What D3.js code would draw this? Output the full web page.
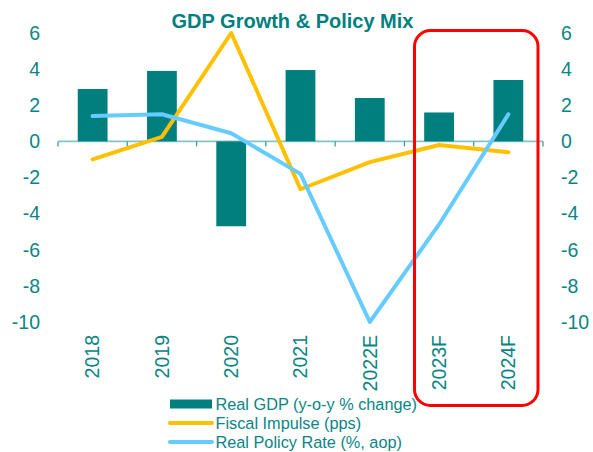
<!DOCTYPE html>
<html>
<head>
<meta charset="utf-8">
<script src="https://cdn.jsdelivr.net/npm/d3@7"></script>
<style>
  html, body { margin: 0; padding: 0; background: #fff; }
  svg { display: block; font-family: "Liberation Sans", Arial, sans-serif; }
</style>
</head>
<body>
<svg id="chart" width="593" height="452"></svg>
<script>
const categories = ["2018", "2019", "2020", "2021", "2022E", "2023F", "2024F"];
const gdp = [2.9, 3.9, -4.7, 3.95, 2.4, 1.6, 3.4];
const fiscal = [-1.0, 0.25, 6.0, -2.65, -1.15, -0.2, -0.6];
const policy = [1.4, 1.5, 0.45, -1.8, -10.0, -4.6, 1.5];
const yTicks = [6, 4, 2, 0, -2, -4, -6, -8, -10];
const legendLabels = ["Real GDP (y-o-y % change)", "Fiscal Impulse (pps)", "Real Policy Rate (%, aop)"];
const titleText = "GDP Growth & Policy Mix";

const teal = "#007F7F", textTeal = "#0A8585", yellow = "#FFC000", blue = "#66CCFF", red = "#FF0000";

const svg = d3.select("#chart");

const x = d3.scaleBand().domain(categories).range([58, 543]).paddingInner(0.57).paddingOuter(0.285);
const xStep = d3.scaleBand().domain(categories).range([58, 543]).padding(0);
const y = d3.scaleLinear().domain([-10, 6]).range([322, 33]);

// Title
svg.append("text").attr("x", 292.5).attr("y", 28).attr("text-anchor", "middle")
  .attr("font-size", 20).attr("font-weight", "bold").attr("fill", teal).text(titleText);

// Zero axis line
svg.append("line").attr("x1", 58).attr("x2", 543).attr("y1", y(0)).attr("y2", y(0))
  .attr("stroke", "#86C3C3").attr("stroke-width", 1.8);
// ticks at band boundaries
const bounds = categories.map(c => xStep(c)).concat([xStep(categories[categories.length-1]) + xStep.bandwidth()]);
svg.selectAll("line.tick").data(bounds).enter().append("line").attr("class", "tick")
  .attr("x1", d => d).attr("x2", d => d).attr("y1", y(0)).attr("y2", y(0) + 5)
  .attr("stroke", "#2E9595").attr("stroke-width", 1.2);

// Bars
svg.selectAll("rect.bar").data(gdp).enter().append("rect").attr("class", "bar")
  .attr("x", (d, i) => x(categories[i]))
  .attr("width", x.bandwidth())
  .attr("y", d => y(Math.max(0, d)))
  .attr("height", d => Math.abs(y(d) - y(0)))
  .attr("fill", teal);

// Lines
const cx = i => x(categories[i]) + x.bandwidth() / 2;
const line = d3.line().x((d, i) => cx(i)).y(d => y(d));
svg.append("path").datum(fiscal).attr("d", line).attr("fill", "none")
  .attr("stroke", yellow).attr("stroke-width", 4).attr("stroke-linejoin", "round").attr("stroke-linecap", "round");
svg.append("path").datum(policy).attr("d", line).attr("fill", "none")
  .attr("stroke", blue).attr("stroke-width", 4).attr("stroke-linejoin", "round").attr("stroke-linecap", "round");

// Y axis labels left and right
svg.selectAll("text.yl").data(yTicks).enter().append("text").attr("class", "yl")
  .attr("x", 40).attr("y", d => y(d)).attr("dy", "0.35em").attr("text-anchor", "end")
  .attr("font-size", 19.5).attr("fill", textTeal).text(d => d);
svg.selectAll("text.yr").data(yTicks).enter().append("text").attr("class", "yr")
  .attr("x", 561).attr("y", d => y(d)).attr("dy", "0.35em").attr("text-anchor", "start")
  .attr("font-size", 19.5).attr("fill", textTeal).text(d => d);

// X labels rotated
svg.selectAll("text.xl").data(categories).enter().append("text").attr("class", "xl")
  .attr("transform", (d, i) => `translate(${cx(i)},335) rotate(-90)`)
  .attr("dy", "0.35em").attr("text-anchor", "end")
  .attr("font-size", 19.5).attr("fill", textTeal).text(d => d);

// Red highlight rounded rect
svg.append("rect").attr("x", 414.5).attr("y", 30.5).attr("width", 123.5).attr("height", 375)
  .attr("rx", 16).attr("ry", 16).attr("fill", "none").attr("stroke", red).attr("stroke-width", 3);

// Legend
const lg = svg.append("g");
const rowY = [404, 423, 442];
lg.append("rect").attr("x", 170).attr("y", rowY[0] - 4.5).attr("width", 42).attr("height", 9).attr("fill", teal);
lg.append("line").attr("x1", 170).attr("x2", 212).attr("y1", rowY[1]).attr("y2", rowY[1])
  .attr("stroke", yellow).attr("stroke-width", 4).attr("stroke-linecap", "round");
lg.append("line").attr("x1", 170).attr("x2", 212).attr("y1", rowY[2]).attr("y2", rowY[2])
  .attr("stroke", blue).attr("stroke-width", 4).attr("stroke-linecap", "round");
lg.selectAll("text").data(legendLabels).enter().append("text")
  .attr("x", 215.5).attr("y", (d, i) => rowY[i]).attr("dy", "0.35em")
  .attr("font-size", 16.3).attr("fill", textTeal).text(d => d);
</script>
</body>
</html>
